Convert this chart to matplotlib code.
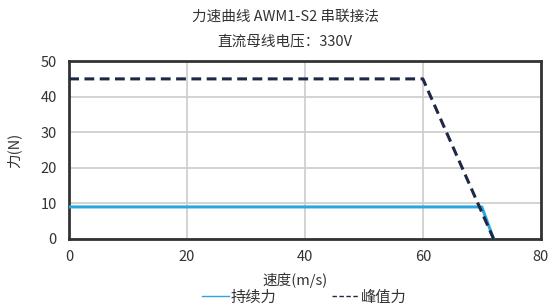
import matplotlib
matplotlib.use("Agg")
import matplotlib.pyplot as plt

plt.rcParams['font.family'] = ['Noto Sans CJK SC', 'DejaVu Sans']

title_lines = ["力速曲线 AWM1-S2 串联接法", "直流母线电压：330V"]
x_label = "速度(m/s)"
y_label = "力(N)"

cont_speed = [0, 70, 72]
cont_force = [9, 9, 0]
peak_speed = [0, 60, 72]
peak_force = [45, 45, 0]
series_names = ["持续力", "峰值力"]

x_ticks = [0, 20, 40, 60, 80]
y_ticks = [0, 10, 20, 30, 40, 50]

fig = plt.figure(figsize=(5.49, 3.04), dpi=100)
ax = fig.add_axes([0.126, 0.214, 0.859, 0.585])

txtc = "#333333"
ax.plot(cont_speed, cont_force, color="#29a8e0", lw=2.2, label=series_names[0], zorder=3)
ax.plot(peak_speed, peak_force, color="#1f2747", lw=2.2, ls=(0, (3.2, 1.8)), label=series_names[1], zorder=4)

ax.set_xlim(0, 80)
ax.set_ylim(0, 50)
ax.set_xticks(x_ticks)
ax.set_yticks(y_ticks)
ax.grid(True, color="#cccccc", lw=1.2)
ax.set_axisbelow(True)
for s in ax.spines.values():
    s.set_color("#333333")
    s.set_linewidth(2)
ax.tick_params(length=0, labelsize=10.5, colors=txtc)
ax.tick_params(axis='y', pad=9)
ax.tick_params(axis='x', pad=8)

fig.text(285/549, 1 - 17/304, title_lines[0], ha="center", va="center", fontsize=10.5, color=txtc)
fig.text(285/549, 1 - 41/304, title_lines[1], ha="center", va="center", fontsize=10.5, color=txtc)
fig.text(295/549, 1 - 280/304, x_label, ha="center", va="center", fontsize=10.5, color=txtc)
fig.text(14/549, 1 - 150/304, y_label, ha="center", va="center", fontsize=10.5, color=txtc, rotation=90)

leg = fig.legend(loc="center", bbox_to_anchor=(304/549, 1 - 297/304), ncol=2, frameon=False,
                 fontsize=11, handlelength=1.8, handletextpad=0.1, columnspacing=3.6,
                 borderpad=0, borderaxespad=0)
for t in leg.get_texts():
    t.set_color(txtc)
for h in leg.legend_handles:
    h.set_linewidth(1)

fig.savefig("out.png", dpi=100)
